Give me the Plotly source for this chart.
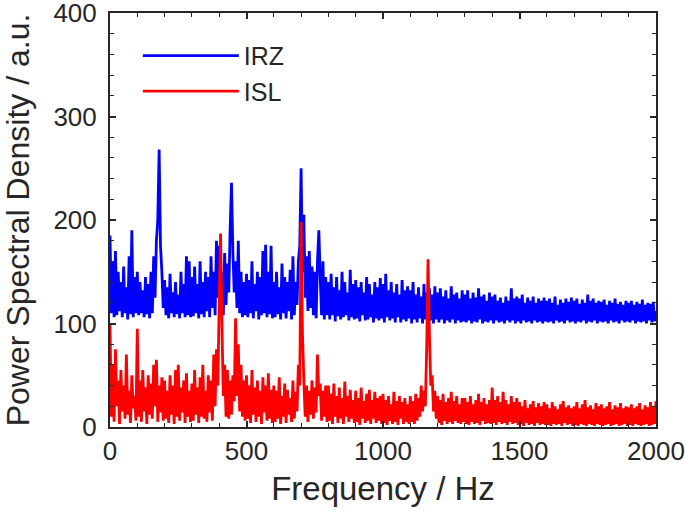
import numpy as np
import plotly.graph_objects as go

freq_step_hz = 5
freq = [i * freq_step_hz for i in range(401)]

irz = [
    185,110,160,106,170,108,150,112,140,106,155,110,135,104,165,109,190,106,145,110,
    150,108,140,110,132,106,145,109,138,105,150,110,165,125,180,200,268,175,150,115,
    142,108,135,105,148,110,130,106,140,109,128,105,150,110,138,106,165,108,160,106,
    145,107,155,110,138,105,160,109,140,106,150,112,145,106,165,115,150,108,180,125,
    175,112,150,108,168,118,158,130,190,236,170,130,160,115,180,110,150,106,140,108,
    148,106,142,110,160,105,138,112,150,104,145,108,170,110,176,106,150,109,175,105,
    140,106,150,109,135,104,158,110,145,105,140,112,152,104,165,108,140,118,160,175,
    250,150,205,125,165,112,170,115,155,108,150,105,160,190,145,108,160,104,145,108,
    140,104,148,108,135,102,145,107,132,104,150,106,140,108,130,103,152,106,138,104,
    142,105,135,102,140,108,130,103,145,104,138,106,128,101,140,105,135,103,144,105,
    138,101,148,106,132,103,140,105,130,101,138,106,128,101,142,104,132,102,136,105,
    132,100,140,104,128,101,135,105,126,100,138,104,130,101,134,103,128,100,136,104,
    130,101,134,104,126,100,132,103,124,101,136,104,128,100,130,103,124,101,132,102,
    128,101,132,103,124,100,130,102,125,101,134,104,126,100,128,102,122,101,130,103,
    126,100,128,103,122,101,125,102,120,100,126,103,122,101,134,103,124,100,126,102,
    124,100,128,103,120,101,125,102,122,100,126,103,120,101,124,102,122,100,125,102,
    122,101,124,102,120,100,126,103,118,101,123,102,120,100,124,103,121,101,125,102,
    122,100,124,102,119,101,123,103,120,100,128,102,122,101,124,103,120,100,122,102,
    121,101,123,102,118,100,122,103,120,101,124,102,119,100,121,103,118,101,122,102,
    120,101,122,103,118,100,121,102,119,101,123,102,118,100,120,103,119,101,121,102,
    112,
]

isl = [
    100,10,60,5,75,20,45,3,55,15,40,8,70,12,35,4,50,18,30,6,
    95,10,45,5,55,15,38,3,50,12,42,8,60,20,65,5,40,14,48,6,
    45,8,35,4,50,12,40,3,55,10,60,6,38,14,45,4,52,10,35,5,
    42,6,55,12,38,4,48,10,60,8,35,5,50,14,45,6,70,20,75,40,
    120,187,100,30,60,10,55,8,45,12,50,25,105,30,80,15,60,10,45,6,
    50,8,40,4,55,12,38,5,45,10,35,3,48,14,40,6,52,8,36,4,
    40,5,35,8,48,3,30,10,42,4,36,12,28,5,45,8,34,15,60,40,
    198,90,45,10,40,5,35,12,45,8,38,14,70,30,42,6,35,10,40,5,
    40,6,32,3,42,10,30,4,38,8,28,3,44,10,30,5,36,8,26,4,
    35,5,28,2,38,8,25,4,32,6,36,3,26,8,34,4,28,6,30,3,
    32,4,26,2,30,6,22,3,34,5,25,2,30,8,24,3,28,5,22,3,
    30,5,25,3,32,6,28,10,40,15,35,20,75,162,90,40,50,15,35,8,
    30,4,26,2,32,6,24,3,28,5,34,3,25,6,30,4,22,3,28,5,
    28,3,24,2,30,5,22,3,26,4,32,2,24,6,28,3,22,4,26,3,
    38,4,26,2,30,5,24,3,34,4,26,2,22,5,30,3,24,4,28,2,
    24,3,20,1,26,4,18,2,22,3,25,1,19,4,23,2,20,3,24,2,
    22,2,18,1,24,3,20,2,17,3,22,1,25,4,19,2,21,3,18,1,
    20,2,24,1,18,3,22,2,26,1,19,3,21,2,17,1,23,3,20,2,
    22,1,18,2,20,3,24,1,17,2,21,3,19,1,23,2,18,3,20,1,
    19,2,22,1,18,3,20,2,23,1,17,2,21,3,19,1,24,2,20,3,
    25,
]

x_ticks = [0, 500, 1000, 1500, 2000]
y_ticks = [0, 100, 200, 300, 400]

FONT = "Liberation Sans, Arial, sans-serif"
TXT = "#262626"
LW = 2.8

fig = go.Figure()
fig.add_trace(go.Scatter(x=freq, y=irz, mode="lines", name="IRZ",
                         line=dict(color="#0000ff", width=LW)))
fig.add_trace(go.Scatter(x=freq, y=isl, mode="lines", name="ISL",
                         line=dict(color="#ff0000", width=LW)))

axis_common = dict(
    showline=True, linecolor=TXT, linewidth=2, mirror="ticks",
    ticks="inside", ticklen=6, tickwidth=1.5, tickcolor=TXT,
    showgrid=False, zeroline=False, automargin=False,
    ticklabeloverflow="allow",
    tickfont=dict(family=FONT, size=26, color=TXT),
)

fig.update_xaxes(range=[0, 2000], tickvals=x_ticks,
                 minor=dict(dtick=100, ticks="inside", ticklen=4, tickcolor=TXT, tickwidth=1.2),
                 title=dict(text="Frequency / Hz", font=dict(family=FONT, size=33, color=TXT), standoff=12),
                 **axis_common)
fig.update_yaxes(range=[0, 400.001], tickvals=y_ticks, ticklabelstandoff=6,
                 minor=dict(dtick=20, ticks="inside", ticklen=4, tickcolor=TXT, tickwidth=1.2),
                 title=dict(text="Power Spectral Density / a.u.", font=dict(family=FONT, size=32, color=TXT), standoff=15),
                 **axis_common)

fig.update_layout(
    width=685, height=513,
    margin=dict(l=110, r=29, t=13, b=86),
    paper_bgcolor="white", plot_bgcolor="white",
    showlegend=True,
    legend=dict(x=0.051, y=0.952, xanchor="left", yanchor="top",
                bgcolor="rgba(0,0,0,0)", borderwidth=0,
                font=dict(family=FONT, size=25, color=TXT),
                itemwidth=96, tracegroupgap=0),
)

fig.write_html("out.html", config={"displayModeBar": False},
               post_script="document.body.style.margin='0';document.body.style.overflow='hidden';")
